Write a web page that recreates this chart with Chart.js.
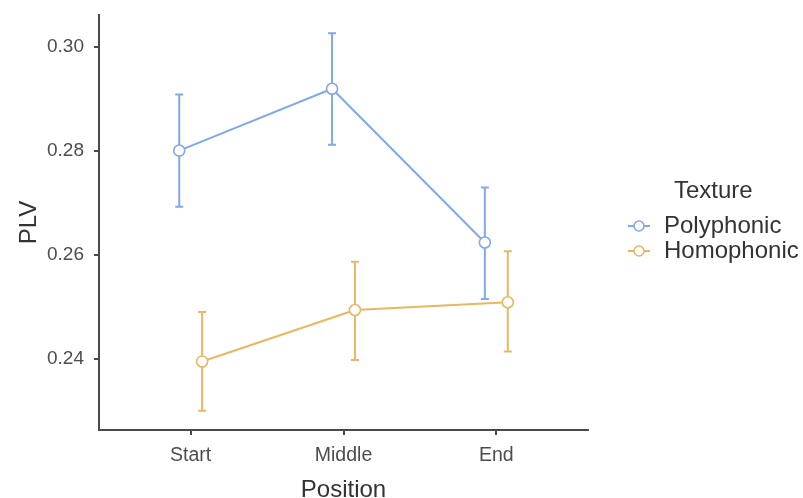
<!DOCTYPE html>
<html><head><meta charset="utf-8">
<script src="https://cdn.jsdelivr.net/npm/chart.js@4/dist/chart.umd.min.js"></script>
<style>
html,body{margin:0;padding:0;background:#fff;}
#wrap{position:relative;width:803px;height:498px;font-family:"Liberation Sans",Arial,sans-serif;}
#c{position:absolute;left:0;top:0;}
.lg{position:absolute;color:#333;font-size:24px;line-height:26px;white-space:nowrap;}
.mk{position:absolute;}
</style></head><body>
<div id="wrap"><canvas id="c" width="803" height="498"></canvas><div id="legend"></div></div>
<script>
// ---- data ----
const positions = ['Start', 'Middle', 'End'];
const seriesNames = ['Polyphonic', 'Homophonic'];
const polyMean  = [0.2801, 0.2920, 0.2624];
const polyLower = [0.2693, 0.2812, 0.2515];
const polyUpper = [0.2909, 0.3027, 0.2730];
const homoMean  = [0.2395, 0.2494, 0.2509];
const homoLower = [0.2300, 0.2398, 0.2414];
const homoUpper = [0.2490, 0.2587, 0.2607];
const yTicks = [0.24, 0.26, 0.28, 0.30];
const legendTitle = 'Texture';
const xTitle = 'Position';
const yTitle = 'PLV';

// ---- styling ----
const colors = ['#82a8ec', '#e9b762'];
const dodge = [-0.075, 0.075];
const axisColor = '#4a4a4a';
const textColor = '#4d4d4d';
const fam = '"Liberation Sans", Arial, sans-serif';

const means = [polyMean, homoMean];
const lowers = [polyLower, homoLower];
const uppers = [polyUpper, homoUpper];

const datasets = seriesNames.map((name, s) => ({
  label: name,
  data: positions.map((p, i) => ({x: i + 1 + dodge[s], y: means[s][i]})),
  borderColor: colors[s],
  backgroundColor: '#ffffff',
  borderWidth: 2,
  pointRadius: 5.5,
  pointBorderWidth: 1.6,
  pointBackgroundColor: '#ffffff',
  pointBorderColor: colors[s],
  tension: 0
}));

const errorBars = {
  id: 'errorBars',
  beforeDatasetsDraw(chart) {
    const ctx = chart.ctx, xs = chart.scales.x, ys = chart.scales.y;
    ctx.save();
    ctx.lineWidth = 2;
    seriesNames.forEach((n, s) => {
      ctx.strokeStyle = colors[s];
      positions.forEach((p, i) => {
        const x = xs.getPixelForValue(i + 1 + dodge[s]);
        const y1 = ys.getPixelForValue(lowers[s][i]);
        const y2 = ys.getPixelForValue(uppers[s][i]);
        ctx.beginPath();
        ctx.moveTo(x, y1); ctx.lineTo(x, y2);
        ctx.moveTo(x - 4, y1); ctx.lineTo(x + 4, y1);
        ctx.moveTo(x - 4, y2); ctx.lineTo(x + 4, y2);
        ctx.stroke();
      });
    });
    ctx.restore();
  }
};

new Chart(document.getElementById('c'), {
  type: 'line',
  data: {datasets},
  options: {
    responsive: false,
    animation: false,
    devicePixelRatio: 1,
    layout: {padding: {left: 0, right: 215, top: 15, bottom: 0}},
    plugins: {legend: {display: false}, tooltip: {enabled: false}},
    scales: {
      x: {
        type: 'linear',
        min: 0.4, max: 3.6,
        afterFit(s) { s.height = 68; s.paddingLeft = 0; s.paddingRight = 0; },
        afterBuildTicks(s) { s.ticks = positions.map((p, i) => ({value: i + 1})); },
        ticks: {
          callback: (v) => positions[Math.round(v) - 1],
          color: textColor, font: {size: 19.5, family: fam},
          padding: 9, maxRotation: 0
        },
        grid: {display: true, drawOnChartArea: false, drawTicks: true, tickLength: 5, tickColor: axisColor, tickWidth: 2, lineWidth: 2, color: axisColor},
        border: {display: true, color: axisColor, width: 2},
        title: {display: true, text: xTitle, color: '#333', font: {size: 24, family: fam, lineHeight: 1.0}, padding: {top: 0, bottom: -4}}
      },
      y: {
        type: 'linear',
        min: 0.2263, max: 0.3062,
        afterFit(s) { s.width = 99; s.paddingTop = 0; s.paddingBottom = 0; },
        afterBuildTicks(s) { s.ticks = yTicks.map(v => ({value: v})); },
        ticks: {
          callback: (v) => v.toFixed(2),
          color: textColor, font: {size: 19, family: fam},
          padding: 10
        },
        grid: {display: true, drawOnChartArea: false, drawTicks: true, tickLength: 5, tickColor: axisColor, tickWidth: 2, lineWidth: 2, color: axisColor},
        border: {display: true, color: axisColor, width: 2},
        title: {display: true, text: yTitle, color: '#333', font: {size: 24, family: fam, lineHeight: 1.0}, padding: {top: 17, bottom: 0}}
      }
    }
  },
  plugins: [errorBars]
});

// ---- legend (HTML text) ----
const lg = document.getElementById('legend');
const t = document.createElement('div');
t.className = 'lg'; t.style.left = '674px'; t.style.top = '177px'; t.textContent = legendTitle;
lg.appendChild(t);
seriesNames.forEach((name, s) => {
  const top = 212 + s * 25;
  const m = document.createElementNS('http://www.w3.org/2000/svg', 'svg');
  m.setAttribute('class', 'mk'); m.setAttribute('width', '26'); m.setAttribute('height', '14');
  m.style.left = '626px'; m.style.top = (top + 7) + 'px';
  m.innerHTML = '<line x1="2" y1="7" x2="24" y2="7" stroke="' + colors[s] + '" stroke-width="2"/>' +
    '<circle cx="13" cy="7" r="5" fill="#fff" stroke="' + colors[s] + '" stroke-width="1.6"/>';
  lg.appendChild(m);
  const d = document.createElement('div');
  d.className = 'lg'; d.style.left = '664px'; d.style.top = top + 'px'; d.textContent = name;
  lg.appendChild(d);
});
</script>
</body></html>
